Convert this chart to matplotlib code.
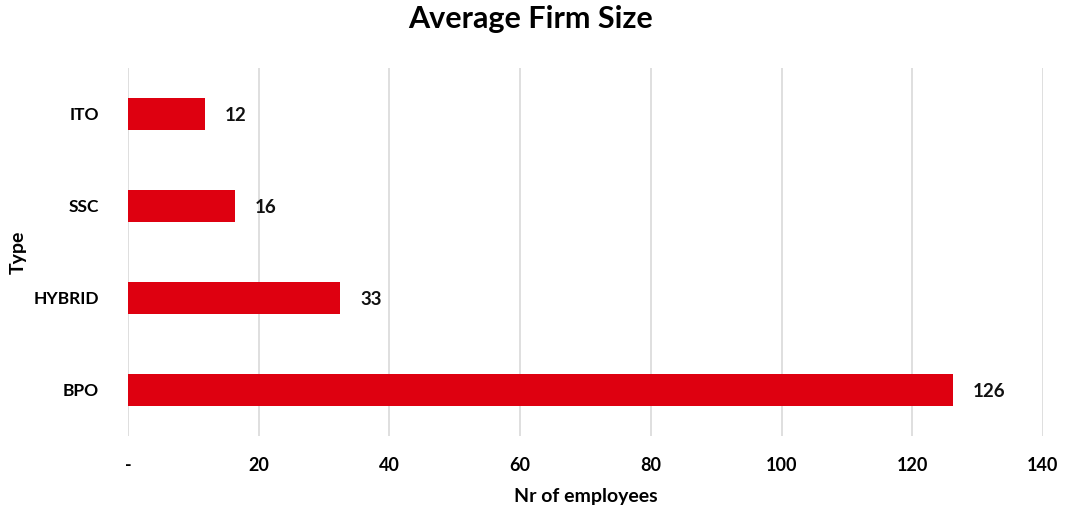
import matplotlib.pyplot as plt

# Average firm size by type
types = ['BPO', 'HYBRID', 'SSC', 'ITO']
employees = [126.2, 32.5, 16.4, 11.8]
labels = ['126', '33', '16', '12']
xticks = [0, 20, 40, 60, 80, 100, 120, 140]
xticklabels = ['-', '20', '40', '60', '80', '100', '120', '140']

plt.rcParams['font.family'] = ['Lato', 'DejaVu Sans']
plt.rcParams['font.weight'] = 'bold'

fig = plt.figure(figsize=(10.71, 5.14), dpi=100)
ax = fig.add_axes([128 / 1071, 1 - 436 / 514, (1043 - 128) / 1071, (436 - 68) / 514])

ax.barh(types, employees, height=0.35, color='#DE0010', zorder=3)
for i, (v, t) in enumerate(zip(employees, labels)):
    ax.text(v + 3, i - 0.02, t, va='center', ha='left', fontsize=13.5, fontweight='bold', color='#111111')

ax.set_xlim(0, 140)
ax.set_ylim(-0.5, 3.5)
ax.set_xticks(xticks)
ax.set_xticklabels(xticklabels, fontsize=13, fontweight='bold')
ax.tick_params(axis='x', length=0, pad=15)
ax.tick_params(axis='y', length=0, pad=21, labelsize=12.5)
ax.grid(axis='x', color='#D9D9D9', linewidth=1.2, zorder=0)
for s in ax.spines.values():
    s.set_visible(False)

ax.set_xlabel('Nr of employees', fontsize=14, fontweight='bold', labelpad=10)
ax.set_ylabel('Type', fontsize=14, fontweight='bold', labelpad=5)
fig.suptitle('Average Firm Size', fontsize=22, fontweight='bold', x=0.495, y=0.99)

plt.savefig('out.png', dpi=100)
plt.close()
